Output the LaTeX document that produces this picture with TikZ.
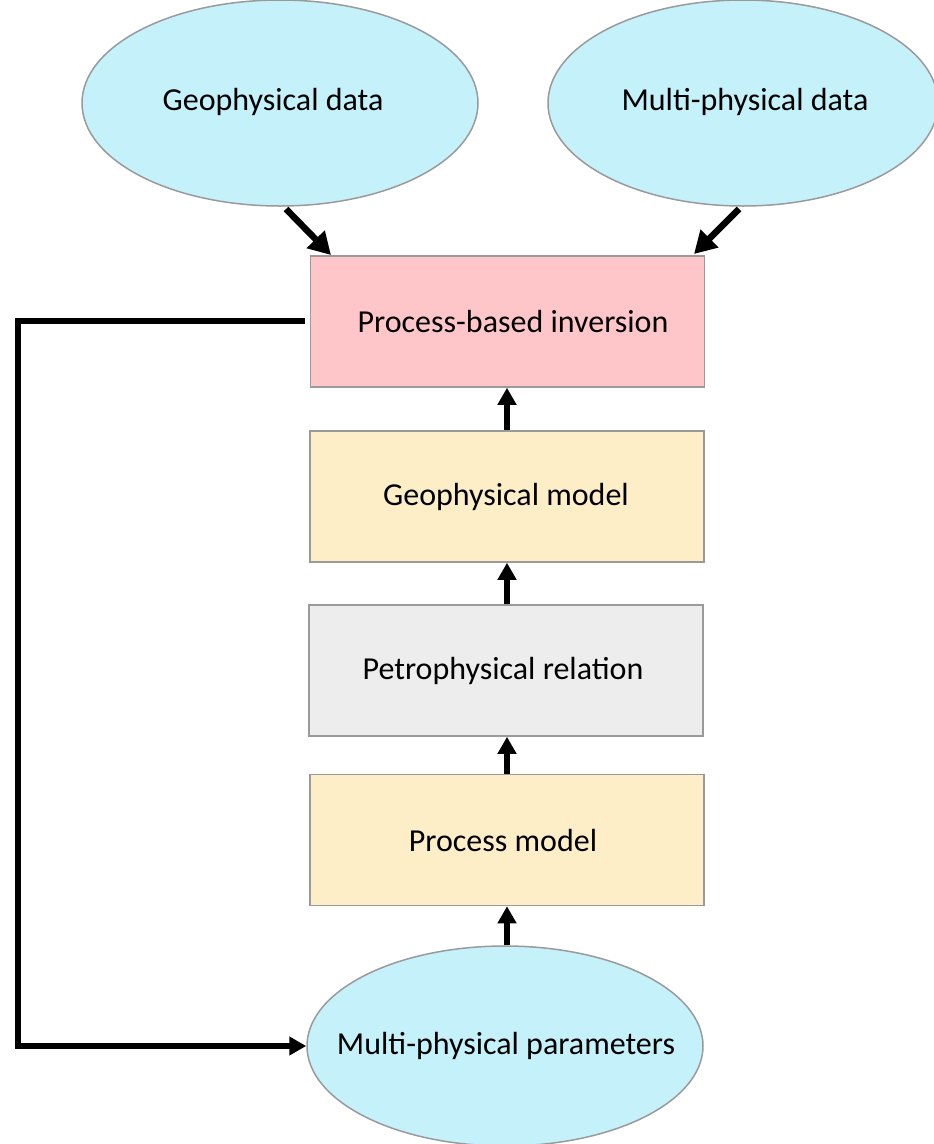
\documentclass[tikz,border=0pt]{standalone}
\usepackage{fontspec}
\setmainfont{Carlito}
\usetikzlibrary{shapes.geometric,arrows.meta}
\definecolor{datafill}{HTML}{C5F1FB}
\definecolor{invfill}{HTML}{FFC6CA}
\definecolor{modelfill}{HTML}{FDEEC8}
\definecolor{relfill}{HTML}{EDEDED}
\definecolor{edgegrey}{HTML}{9A9A9A}
\tikzset{
  databubble/.style={ellipse, draw=edgegrey, line width=1.5pt, fill=datafill,
    minimum width=396pt, minimum height=206pt, inner sep=0pt},
  stagebox/.style={rectangle, draw=edgegrey, line width=1.5pt,
    minimum width=394pt, minimum height=131pt, inner sep=0pt},
  flow/.style={line width=5.5pt, -{Triangle[width=18pt,length=17pt]}},
  feed/.style={line width=6.5pt, -{Triangle[width=24pt,length=22pt]}},
  label/.style={font=\fontsize{32}{36}\selectfont}
}
\begin{document}
\begin{tikzpicture}[x=1pt,y=-1pt]
\useasboundingbox (0,0) rectangle (934,1144);
\fill[white] (0,0) rectangle (934,1144);

% data sources
\node[databubble] (geodata) at (280,103) {};
\node[label] at (273,102) {Geophysical data};
\node[databubble, minimum width=390pt] (mpdata) at (743,103) {};
\node[label] at (745,102) {Multi-physical data};

% processing chain
\node[stagebox, fill=invfill] (inv) at (507.5,321.5) {};
\node[label] at (513,322) {Process-based inversion};
\node[stagebox, fill=modelfill] (geomodel) at (507,496.5) {};
\node[label] at (506,497) {Geophysical model};
\node[stagebox, fill=relfill] (petro) at (506,670.5) {};
\node[label] at (503,671) {Petrophysical relation};
\node[stagebox, fill=modelfill] (procmodel) at (507,840) {};
\node[label] at (503,840) {Process model};

% parameters
\node[databubble, minimum height=200pt] (params) at (505,1046) {};
\node[label] at (506,1046) {Multi-physical parameters};

% connectors
\coordinate (gdtail) at (286,209);
\coordinate (gdhead) at (331,255);
\coordinate (mdtail) at (739,209);
\coordinate (mdhead) at (694,254);
\draw[feed] (gdtail) -- (gdhead);
\draw[feed] (mdtail) -- (mdhead);
\draw[flow] (geomodel.north) -- (geomodel.north |- inv.south);
\draw[flow] (petro.north -| geomodel.north) -- (geomodel.south);
\draw[flow] (procmodel.north) -- (procmodel.north |- petro.south);
\draw[flow] (params.north -| procmodel.south) -- (procmodel.south);

% feedback loop
\coordinate (fbstart) at (305,321);
\coordinate (fbtop) at (18,321);
\coordinate (fbbot) at (18,1046);
\draw[flow, line cap=butt, line join=miter]
  (fbstart) -- (fbtop) -- (fbbot) -- (params.west);
\end{tikzpicture}
\end{document}
